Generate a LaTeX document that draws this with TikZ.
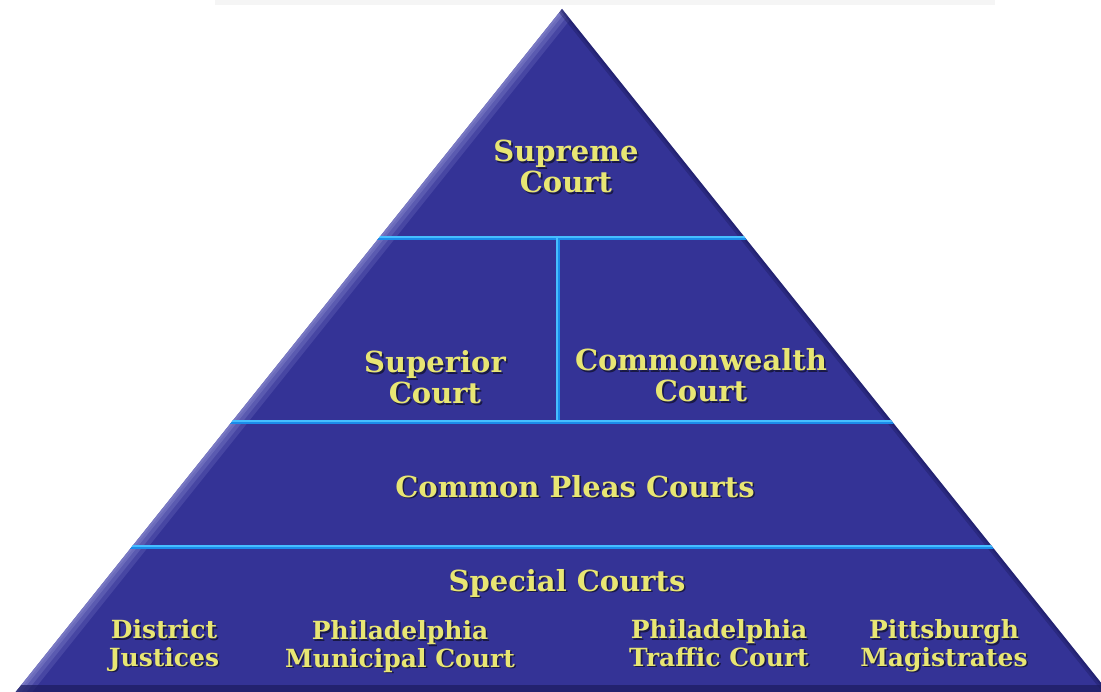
\documentclass[tikz,border=0pt]{standalone}
\usepackage{fontspec}
\setmainfont{DejaVu Serif}
\usepackage{xcolor}
\usetikzlibrary{positioning, calc}
\definecolor{pyrBlue}{RGB}{52, 51, 150}
\definecolor{bevelLight}{RGB}{150, 150, 215}
\definecolor{bevelDark}{RGB}{28, 28, 95}
\definecolor{tierBlue}{RGB}{28, 140, 235}
\definecolor{tierLight}{RGB}{70, 190, 255}
\definecolor{courtYellow}{RGB}{232, 230, 115}
\definecolor{courtShadow}{RGB}{25, 25, 70}
\newcommand{\shadowed}[1]{\leavevmode\rlap{\kern1.6pt\raisebox{-1.6pt}{\textcolor{courtShadow}{#1}}}#1}
\tikzset{
    court/.style={anchor=base, align=center, text=courtYellow, inner sep=0pt,
        font=\fontsize{29}{31}\selectfont\bfseries},
    smallcourt/.style={court, font=\fontsize{25}{27.5}\selectfont\bfseries},
    tier/.style={line width=4.2pt, tierBlue},
    tierhi/.style={line width=1.4pt, tierLight}
}

\begin{document}
\begin{tikzpicture}[x=1pt, y=-1pt]
    \useasboundingbox (0,0) rectangle (1101,692);
    \clip (0,0) rectangle (1101,692);

    % faint remains at the top edge
    \fill[black!4] (215,0) rectangle (995,5);

    \coordinate (T) at (562,9);
    \coordinate (L) at (14,694);
    \coordinate (R) at (1110,694);

    \fill[pyrBlue] (T)--(L)--(R)--cycle;
    \begin{scope}
        \clip (T)--(L)--(R)--cycle;
        \draw[line width=26pt, bevelLight, opacity=.2] (T)--(L);
        \draw[line width=17pt, bevelLight, opacity=.25] (T)--(L);
        \draw[line width=9pt, bevelLight, opacity=.3] (T)--(L);
        \draw[line width=4pt, bevelLight, opacity=.3] (T)--(L);
        \draw[line width=9pt, bevelDark, opacity=.4] (T)--(R);
        \draw[line width=4pt, bevelDark, opacity=.4] (T)--(R);
        \fill[bevelDark, opacity=.7] (0,685) rectangle (1101,694);

        \coordinate (a1) at (300,238); \coordinate (a2) at (820,238);
        \coordinate (b1) at (150,422); \coordinate (b2) at (980,422);
        \coordinate (c1) at (50,547);  \coordinate (c2) at (1080,547);
        \coordinate (v1) at (558,238); \coordinate (v2) at (558,422);
        \draw[tier] (a1)--(a2) (b1)--(b2) (c1)--(c2) (v1)--(v2);
        \draw[tierhi] ($(a1)+(0,-1)$)--($(a2)+(0,-1)$) ($(b1)+(0,-1)$)--($(b2)+(0,-1)$)
            ($(c1)+(0,-1)$)--($(c2)+(0,-1)$) ($(v1)+(-1,0)$)--($(v2)+(-1,0)$);
    \end{scope}

    \node[court] (supreme) at (566,193) {\shadowed{Supreme}\\\shadowed{Court}};
    \node[court] (superior) at (435,404) {\shadowed{Superior}\\\shadowed{Court}};
    \node[court] (commonwealth) at (701,402) {\shadowed{Commonwealth}\\\shadowed{Court}};
    \node[court] (pleas) at (575,497) {\shadowed{Common Pleas Courts}};
    \node[court] (special) at (567,591) {\shadowed{Special Courts}};

    \node[smallcourt] (district) at (164,666) {\shadowed{District}\\\shadowed{Justices}};
    \node[smallcourt] (municipal) at (400,667) {\shadowed{Philadelphia}\\\shadowed{Municipal Court}};
    \node[smallcourt] (traffic) at (719,666) {\shadowed{Philadelphia}\\\shadowed{Traffic Court}};
    \node[smallcourt] (magistrates) at (944,666) {\shadowed{Pittsburgh}\\\shadowed{Magistrates}};
\end{tikzpicture}
\end{document}
